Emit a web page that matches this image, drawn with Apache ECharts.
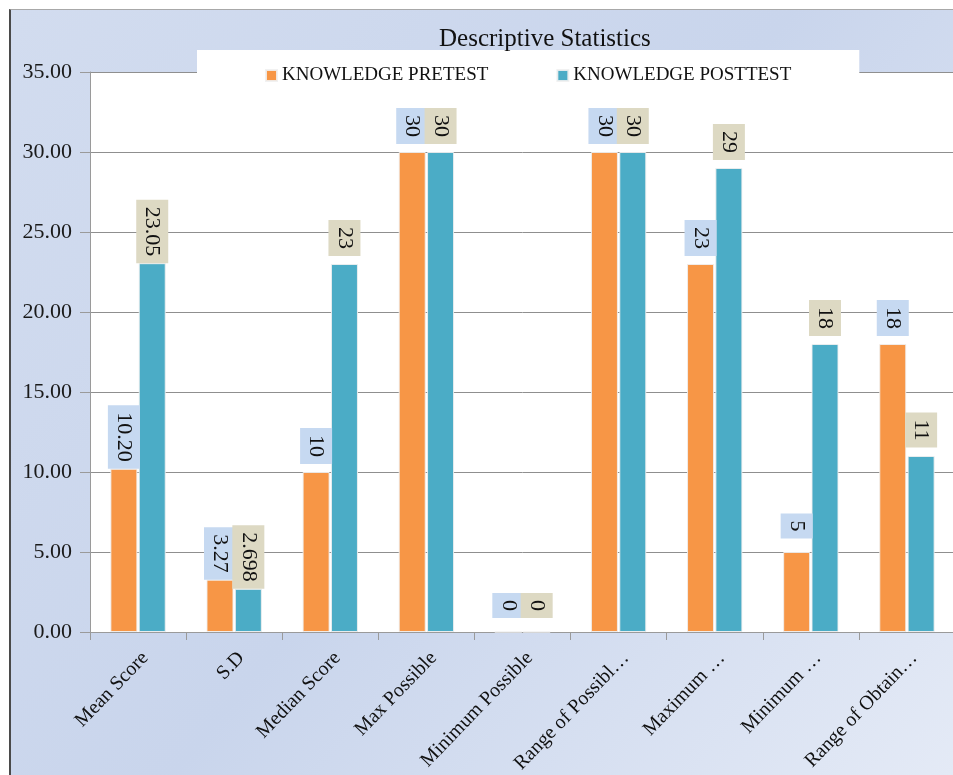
<!DOCTYPE html>
<html>
<head>
<meta charset="utf-8">
<script src="https://cdn.jsdelivr.net/npm/echarts@6/dist/echarts.min.js"></script>
<style>
  html, body { margin: 0; padding: 0; background: #ffffff; width: 953px; height: 775px; overflow: hidden; }
  #frame { position: absolute; left: 9px; top: 9px; width: 944px; height: 766px;
           border-left: 2px solid #4a4a4a; border-top: 1px solid #a8a8a8; }
  #chart { width: 944px; height: 766px; }
</style>
</head>
<body>
<div id="frame"><div id="chart"></div></div>
<script>
// ---- data ----
const categories = ['Mean Score', 'S.D', 'Median Score', 'Max Possible', 'Minimum Possible',
  'Range of Possibl…', 'Maximum …', 'Minimum …', 'Range of Obtain…'];
const pretestValues  = [10.20, 3.27, 10, 30, 0, 30, 23, 5, 18];
const posttestValues = [23.05, 2.698, 23, 30, 0, 30, 29, 18, 11];
const pretestLabels  = ['10.20', '3.27', '10', '30', '0', '30', '23', '5', '18'];
const posttestLabels = ['23.05', '2.698', '23', '30', '0', '30', '29', '18', '11'];
const yTicks = [0, 5, 10, 15, 20, 25, 30, 35];
const seriesNames = ['KNOWLEDGE PRETEST', 'KNOWLEDGE POSTTEST'];

const serif = '"Liberation Serif", "Times New Roman", serif';
const LABEL_FONT = 22, LABEL_PAD = 7, LABEL_MIN_CENTER = 26;

const measureCtx = document.createElement('canvas').getContext('2d');
measureCtx.font = LABEL_FONT + 'px ' + serif;

// label sits centred a fixed gap above the bar, pushed up so that long labels never overlap the bar
function makeData(vals, texts) {
  return vals.map((v, i) => {
    const half = (measureCtx.measureText(texts[i]).width + 2 * LABEL_PAD) / 2;
    return { value: v, label: { distance: Math.max(LABEL_MIN_CENTER, half) } };
  });
}
function makeLabel(texts, bg) {
  return {
    show: true,
    position: 'top',
    rotate: -90,
    align: 'center',
    verticalAlign: 'middle',
    fontFamily: serif,
    fontSize: LABEL_FONT,
    lineHeight: 22,
    color: '#111',
    backgroundColor: bg,
    padding: [5, LABEL_PAD, 5, LABEL_PAD],
    formatter: p => texts[p.dataIndex]
  };
}

const chart = echarts.init(document.getElementById('chart'), null, { renderer: 'canvas' });
chart.setOption({
  animation: false,
  backgroundColor: {
    type: 'linear', x: 0, y: 0, x2: 1, y2: 1,
    colorStops: [
      { offset: 0, color: '#D2DCEF' },
      { offset: 0.5, color: '#C9D5EC' },
      { offset: 1, color: '#E4EAF6' }
    ]
  },
  title: {
    text: 'Descriptive Statistics',
    left: 428, top: 17, padding: 0,
    textStyle: { fontFamily: serif, fontSize: 25, fontWeight: 'normal', color: '#111' }
  },
  legend: {
    data: seriesNames,
    left: 186, top: 40,
    padding: [16, 68, 10, 68],
    backgroundColor: '#ffffff',
    itemGap: 68,
    itemWidth: 11, itemHeight: 11,
    icon: 'rect',
    textStyle: { fontFamily: serif, fontSize: 19, color: '#111' }
  },
  grid: {
    left: 79, top: 62, width: 871, height: 560,
    show: true, backgroundColor: '#ffffff', borderWidth: 0,
    containLabel: false
  },
  xAxis: {
    type: 'category',
    data: categories,
    axisLine: { lineStyle: { color: '#9a9a9a', width: 1 } },
    axisTick: { show: true, length: 8, lineStyle: { color: '#9a9a9a' } },
    axisLabel: {
      rotate: 46, margin: 16, interval: 0,
      verticalAlign: 'top',
      fontFamily: serif, fontSize: 20, color: '#111'
    }
  },
  yAxis: {
    type: 'value',
    min: 0, max: 35, interval: 5,
    axisLine: { show: true, lineStyle: { color: '#9a9a9a', width: 1 } },
    axisTick: { show: true, length: 10, lineStyle: { color: '#9a9a9a' } },
    axisLabel: {
      margin: 18, fontFamily: serif, fontSize: 22, color: '#1a1a1a',
      formatter: v => yTicks.includes(v) ? v.toFixed(2) : ''
    },
    splitLine: { show: true, lineStyle: { color: '#8f8f8f', width: 1 } }
  },
  series: [
    {
      name: seriesNames[0], type: 'bar',
      data: makeData(pretestValues, pretestLabels),
      barWidth: 27, barGap: '5%',
      itemStyle: { color: '#F79646', borderColor: 'rgba(240,240,240,0.9)', borderWidth: 1 },
      label: makeLabel(pretestLabels, '#C6D9F1')
    },
    {
      name: seriesNames[1], type: 'bar',
      data: makeData(posttestValues, posttestLabels),
      barWidth: 27, barGap: '5%',
      itemStyle: { color: '#4BACC6', borderColor: 'rgba(240,240,240,0.9)', borderWidth: 1 },
      label: makeLabel(posttestLabels, '#DDD9C3')
    }
  ]
});
</script>
</body>
</html>
